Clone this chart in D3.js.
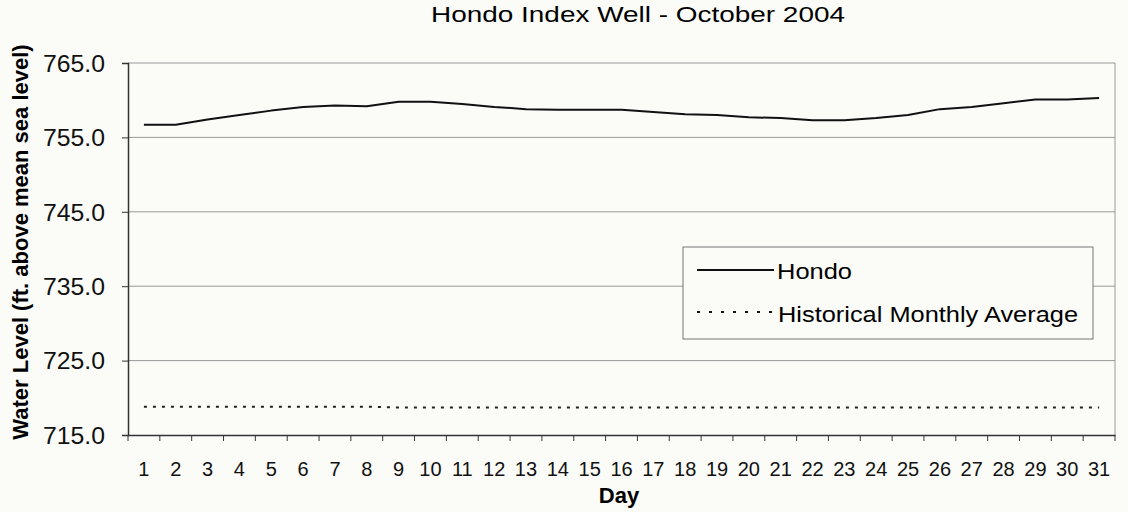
<!DOCTYPE html>
<meta charset="utf-8">
<style>
body { margin: 0; background: #fbfbf8; }
svg { font-family: Arial, "Liberation Sans", sans-serif; }
.grid line { stroke: #999; stroke-width: 1; }
.axis path, .axis line { stroke: #333; }
.axis text { fill: #111; }
</style>
<svg width="1128" height="512"></svg>
<script src="https://d3js.org/d3.v7.min.js"></script>
<script>
var days = ["1","2","3","4","5","6","7","8","9","10","11","12","13","14","15","16",
            "17","18","19","20","21","22","23","24","25","26","27","28","29","30","31"];

var hondo = [756.7, 756.7, 757.4, 758.0, 758.6, 759.1, 759.3, 759.2, 759.8, 759.8, 759.5,
             759.1, 758.8, 758.7, 758.7, 758.7, 758.4, 758.1, 758.0, 757.7, 757.6, 757.3,
             757.3, 757.6, 758.0, 758.8, 759.1, 759.6, 760.1, 760.1, 760.3];

var histAvg = [718.8, 718.8, 718.8, 718.8, 718.8, 718.8, 718.8, 718.8, 718.7, 718.7, 718.7,
               718.7, 718.7, 718.7, 718.7, 718.7, 718.7, 718.7, 718.7, 718.7, 718.7, 718.7,
               718.7, 718.7, 718.7, 718.7, 718.7, 718.7, 718.7, 718.7, 718.7];

var yTicks = [715, 725, 735, 745, 755, 765];

var svg = d3.select("svg"),
    margin = {top: 63, right: 13, bottom: 77, left: 128},
    width = +svg.attr("width") - margin.left - margin.right,
    height = +svg.attr("height") - margin.top - margin.bottom,
    g = svg.append("g").attr("transform", "translate(" + margin.left + "," + margin.top + ")");

var x = d3.scaleBand().domain(days).range([0, width]);
var y = d3.scaleLinear().domain([715, 765]).range([height, 0]);

// gridlines
g.append("g")
    .attr("class", "grid")
    .selectAll("line")
    .data(yTicks.slice(1))
    .enter().append("line")
    .attr("x1", 0).attr("x2", width)
    .attr("y1", function(d) { return y(d); })
    .attr("y2", function(d) { return y(d); });

// right border
g.append("line")
    .attr("x1", width).attr("x2", width)
    .attr("y1", 0).attr("y2", height)
    .attr("stroke", "#999");

// y axis
var yAxis = g.append("g")
    .attr("class", "axis")
    .call(d3.axisLeft(y).tickValues(yTicks).tickFormat(d3.format(".1f")).tickSize(6).tickPadding(17));
yAxis.select(".domain").attr("stroke-width", 1.5);
yAxis.selectAll("text")
    .style("font-size", "23px")
    .attr("dy", "0.36em")
    .attr("textLength", 62)
    .attr("lengthAdjust", "spacingAndGlyphs");

// x axis: ticks at band boundaries
var xAxis = g.append("g")
    .attr("class", "axis")
    .attr("transform", "translate(0," + height + ")")
    .call(d3.axisBottom(x).tickSize(0).tickPadding(0));
xAxis.select(".domain").attr("stroke-width", 1.5);
xAxis.selectAll("text").style("font-size", "20px").attr("dy", null).attr("y", 41);
xAxis.selectAll(".bound")
    .data(d3.range(days.length + 1))
    .enter().append("line")
    .attr("x1", function(i) { return i * x.step(); })
    .attr("x2", function(i) { return i * x.step(); })
    .attr("y1", 0).attr("y2", 6)
    .attr("stroke", "#333");

var lineFn = d3.line()
    .x(function(d, i) { return x(days[i]) + x.bandwidth() / 2; })
    .y(function(d) { return y(d); });

g.append("path")
    .datum(histAvg)
    .attr("fill", "none")
    .attr("stroke", "#222")
    .attr("stroke-width", 2)
    .attr("stroke-dasharray", "3,6")
    .attr("d", lineFn);

g.append("path")
    .datum(hondo)
    .attr("fill", "none")
    .attr("stroke", "#111")
    .attr("stroke-width", 2)
    .attr("stroke-linejoin", "round")
    .attr("d", lineFn);

// title
svg.append("text")
    .attr("x", 431)
    .attr("y", 22)
    .attr("textLength", 414)
    .attr("lengthAdjust", "spacingAndGlyphs")
    .style("font-size", "22px")
    .text("Hondo Index Well - October 2004");

// axis titles
svg.append("text")
    .attr("x", 619)
    .attr("y", 503)
    .attr("text-anchor", "middle")
    .style("font-size", "22px")
    .style("font-weight", "bold")
    .text("Day");

svg.append("text")
    .attr("transform", "translate(28,242) rotate(-90)")
    .attr("text-anchor", "middle")
    .style("font-size", "22px")
    .style("font-weight", "bold")
    .text("Water Level (ft. above mean sea level)");

// legend
var legend = svg.append("g").attr("transform", "translate(683,247)");
legend.append("rect")
    .attr("width", 410).attr("height", 92)
    .attr("fill", "#fbfbf8")
    .attr("stroke", "#777");
var items = [
  {name: "Hondo", dash: null, len: 75, tx: 94, yy: 23, off: 9},
  {name: "Historical Monthly Average", dash: "3,9", len: 300, tx: 95, yy: 65, off: 10}
];
items.forEach(function(it) {
  legend.append("line")
      .attr("x1", 14).attr("x2", 91)
      .attr("y1", it.yy).attr("y2", it.yy)
      .attr("stroke", "#111")
      .attr("stroke-width", 2)
      .attr("stroke-dasharray", it.dash);
  legend.append("text")
      .attr("x", it.tx)
      .attr("y", it.yy + it.off)
      .attr("textLength", it.len)
      .attr("lengthAdjust", "spacingAndGlyphs")
      .style("font-size", "22px")
      .text(it.name);
});
</script>
